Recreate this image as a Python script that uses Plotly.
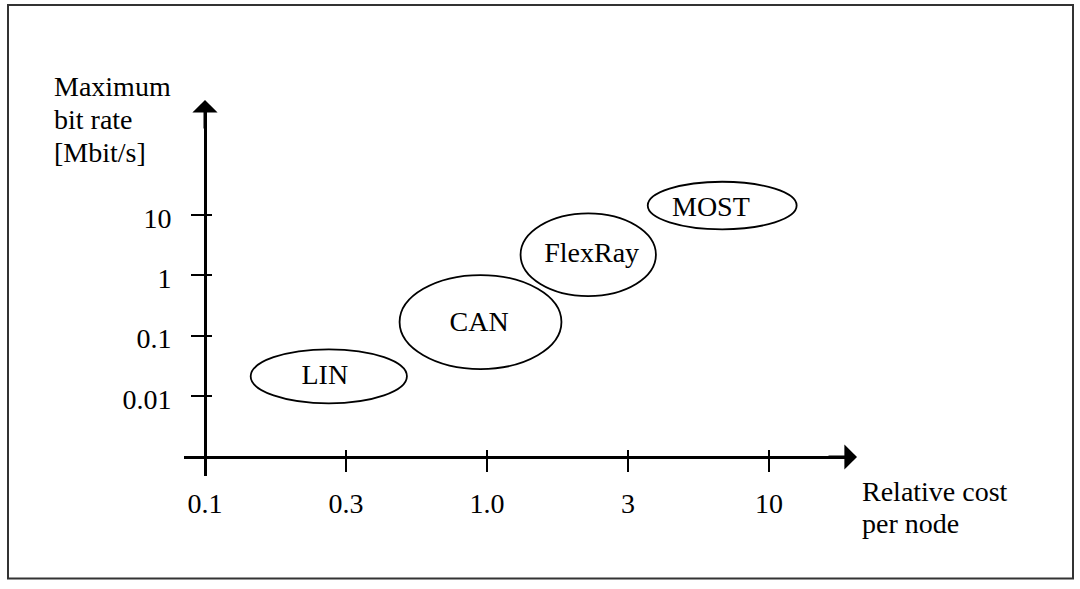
import plotly.graph_objects as go

# ---------------- data (axis units are decades, i.e. log10 of the value;
# the cost axis is drawn with half-decade ticks 0.1, 0.3, 1.0, 3, 10) -------
x_tick_pos = [-1.0, -0.5, 0.0, 0.5, 1.0]
x_tick_text = ["0.1", "0.3", "1.0", "3", "10"]
y_tick_pos = [-2, -1, 0, 1]
y_tick_text = ["0.01", "0.1", "1", "10"]

buses = ["LIN", "CAN", "FlexRay", "MOST"]
cost_center = [-0.561, -0.023, 0.359, 0.834]
cost_halfwidth = [0.277, 0.287, 0.240, 0.264]
rate_center = [-1.674, -0.774, 0.342, 1.157]
rate_halfwidth = [0.448, 0.779, 0.685, 0.394]
label_cost = [-0.575, -0.028, 0.371, 0.794]
label_rate = [-1.690, -0.800, 0.345, 1.105]

y_title_lines = ["Maximum", "bit rate", "[Mbit/s]"]
x_title_lines = ["Relative cost", "per node"]

# ---------------- layout geometry ----------------
W, H = 1080, 589
FONT = "Liberation Serif"
FS = 28


def xval(px):
    return -1 + (px - 205) / 282.0


def yval(py):
    return 1 - (py - 215) / 60.333


def px_(p):
    return p / W


def py_(p):
    return 1 - p / H


fig = go.Figure()

# ellipse labels
fig.add_trace(go.Scatter(
    x=label_cost, y=label_rate, mode="text", text=buses,
    textposition="middle center",
    textfont=dict(family=FONT, size=FS, color="black"),
    hoverinfo="skip", showlegend=False, cliponaxis=False,
))
# invisible trace on overlay axes (used for the inner part of the ticks)
fig.add_trace(go.Scatter(x=[None], y=[None], xaxis="x2", yaxis="y2",
                         mode="markers", showlegend=False, hoverinfo="skip"))

# ellipses
for cx, rx, cy, ry in zip(cost_center, cost_halfwidth, rate_center, rate_halfwidth):
    fig.add_shape(type="circle", xref="x", yref="y",
                  x0=cx - rx, x1=cx + rx, y0=cy - ry, y1=cy + ry,
                  line=dict(color="black", width=1.8), layer="above")

# frame
fig.add_shape(type="rect", xref="paper", yref="paper",
              x0=px_(8), x1=px_(1073), y0=py_(578.5), y1=py_(5),
              line=dict(color="#333333", width=2))

xdom = [px_(184), px_(847)]
ydom = [py_(476), py_(110)]
xr = [xval(184), xval(847)]
yr = [yval(476), yval(110)]

common_font = dict(family=FONT, size=FS, color="black")

fig.update_layout(
    width=W, height=H,
    margin=dict(l=0, r=0, t=0, b=0),
    paper_bgcolor="white", plot_bgcolor="rgba(0,0,0,0)",
    showlegend=False,
    xaxis=dict(domain=xdom, range=xr, anchor="free", position=py_(457),
               showline=True, linecolor="black", linewidth=3,
               tickmode="array", tickvals=x_tick_pos, ticktext=x_tick_text,
               ticks="outside", ticklen=13, tickwidth=2, tickcolor="black",
               ticklabelstandoff=7,
               tickfont=common_font, showgrid=False, zeroline=False,
               fixedrange=True),
    yaxis=dict(domain=ydom, range=yr, anchor="free", position=px_(205),
               showline=True, linecolor="black", linewidth=3,
               tickmode="array", tickvals=y_tick_pos, ticktext=y_tick_text,
               ticks="outside", ticklen=13, tickwidth=2, tickcolor="black",
               ticklabelstandoff=14, ticklabelshift=3,
               tickfont=common_font, showgrid=False, zeroline=False,
               fixedrange=True),
    xaxis2=dict(overlaying="x", range=xr, anchor="free", position=py_(457),
                showline=False, tickmode="array", tickvals=x_tick_pos,
                ticks="inside", ticklen=7, tickwidth=2, tickcolor="black",
                showticklabels=False, showgrid=False, zeroline=False,
                fixedrange=True),
    yaxis2=dict(overlaying="y", range=yr, anchor="free", position=px_(205),
                showline=False, tickmode="array", tickvals=y_tick_pos,
                ticks="inside", ticklen=6, tickwidth=2, tickcolor="black",
                showticklabels=False, showgrid=False, zeroline=False,
                fixedrange=True),
)

# axis arrows
fig.add_annotation(xref="paper", yref="paper", x=px_(205), y=py_(100),
                   ax=0, ay=30, text="", showarrow=True, arrowhead=1,
                   arrowsize=1.4, arrowwidth=3, arrowcolor="black")
fig.add_annotation(xref="paper", yref="paper", x=px_(857), y=py_(457),
                   ax=-30, ay=0, text="", showarrow=True, arrowhead=1,
                   arrowsize=1.4, arrowwidth=3, arrowcolor="black")

# axis titles (one annotation per line to keep the tight line spacing)
for i, line in enumerate(y_title_lines):
    fig.add_annotation(xref="paper", yref="paper", x=px_(52), y=py_(87 + 32.5 * i),
                       xanchor="left", yanchor="middle", text=line,
                       showarrow=False, font=common_font, align="left")
for i, line in enumerate(x_title_lines):
    fig.add_annotation(xref="paper", yref="paper", x=px_(860), y=py_(491 + 32.5 * i),
                       xanchor="left", yanchor="middle", text=line,
                       showarrow=False, font=common_font, align="left")

fig.write_html("out.html")
